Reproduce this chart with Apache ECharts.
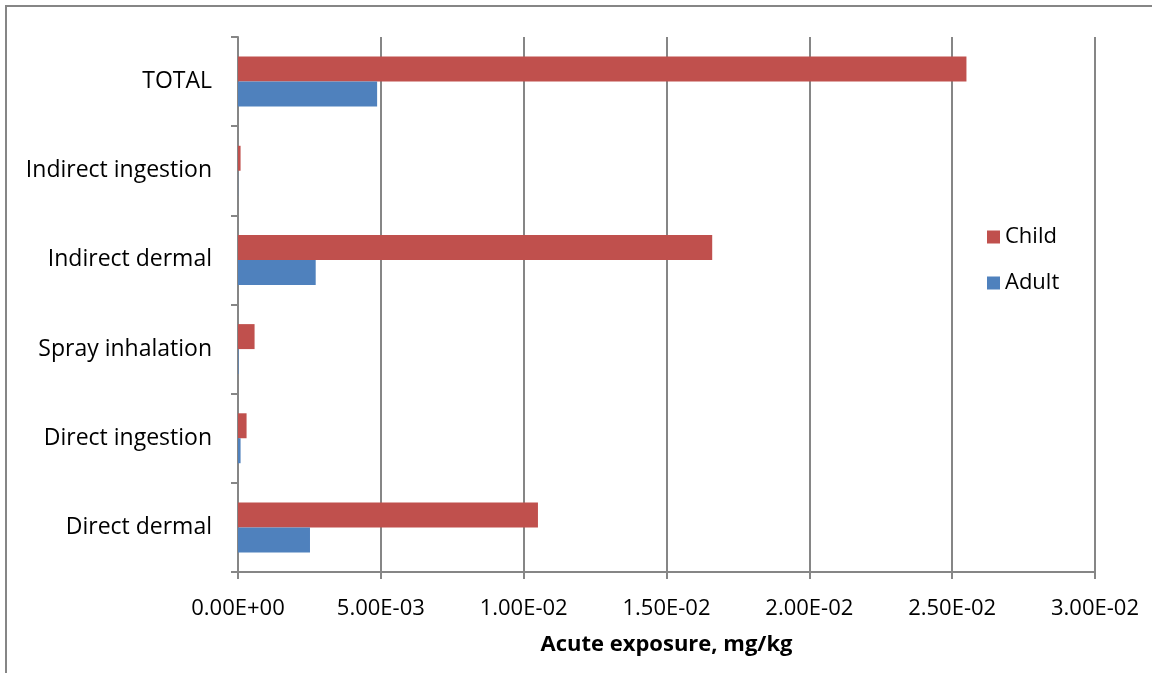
<!DOCTYPE html>
<html>
<head>
<meta charset="utf-8">
<script src="https://cdn.jsdelivr.net/npm/echarts@6/dist/echarts.min.js"></script>
<style>
  html, body { margin: 0; padding: 0; background: #fff; }
  #chart { width: 1152px; height: 673px; }
</style>
</head>
<body>
<div id="chart"></div>
<script>
// Exposure routes, listed bottom to top on the category axis
const categories = ['Direct dermal', 'Direct ingestion', 'Spray inhalation', 'Indirect dermal', 'Indirect ingestion', 'TOTAL'];
const childValues = [0.0105, 0.0003, 0.00058, 0.0166, 0.00009, 0.0255];
const adultValues = [0.00252, 0.00009, 0.00002, 0.00272, 0.000005, 0.00487];
const seriesNames = ['Child', 'Adult'];
const axisTitle = 'Acute exposure, mg/kg';

const FONT = '"Open Sans", "Noto Sans", sans-serif';
const GRAY = '#868686';

// Scientific notation in the form 0.00E+00
function sci(v) {
  if (v === 0) return '0.00E+00';
  const parts = v.toExponential(2).split('e');
  const exp = parseInt(parts[1], 10);
  const sign = exp < 0 ? '-' : '+';
  const mag = String(Math.abs(exp)).padStart(2, '0');
  return parts[0] + 'E' + sign + mag;
}

const chart = echarts.init(document.getElementById('chart'), null, { renderer: 'canvas' });
chart.setOption({
  backgroundColor: '#fff',
  animation: false,
  graphic: [{
    type: 'rect',
    shape: { x: 6, y: 6, width: 1300, height: 800 },
    style: { fill: 'none', stroke: GRAY, lineWidth: 2 },
    silent: true
  }],
  grid: { left: 238, right: 57, top: 37, bottom: 101, containLabel: false },
  legend: {
    data: seriesNames,
    orient: 'vertical',
    left: 982,
    top: 221,
    itemWidth: 13,
    itemHeight: 13,
    itemGap: 24,
    icon: 'rect',
    textStyle: { fontFamily: FONT, fontSize: 22, color: '#000' }
  },
  xAxis: {
    type: 'value',
    min: 0,
    max: 0.03,
    interval: 0.005,
    name: axisTitle,
    nameLocation: 'middle',
    nameGap: 62,
    nameTextStyle: { fontFamily: FONT, fontSize: 22, fontWeight: 'bold', color: '#000' },
    axisLine: { show: true, lineStyle: { color: GRAY, width: 2 } },
    axisTick: { show: true, length: 7, lineStyle: { color: GRAY, width: 2 } },
    axisLabel: { formatter: sci, margin: 26, fontFamily: FONT, fontSize: 22, color: '#000' },
    splitLine: { show: true, lineStyle: { color: GRAY, width: 2 } }
  },
  yAxis: {
    type: 'category',
    data: categories,
    axisLine: { show: true, lineStyle: { color: GRAY, width: 2 } },
    axisTick: { show: true, length: 7, lineStyle: { color: GRAY, width: 2 } },
    axisLabel: { margin: 26, padding: [4, 0, 0, 0], fontFamily: FONT, fontSize: 23, color: '#000' },
    splitLine: { show: false }
  },
  series: [
    {
      name: seriesNames[0],
      type: 'bar',
      data: childValues,
      itemStyle: { color: '#C0504D' },
      barGap: '0%',
      barCategoryGap: '44%'
    },
    {
      name: seriesNames[1],
      type: 'bar',
      data: adultValues,
      itemStyle: { color: '#4F81BD' },
      barGap: '0%',
      barCategoryGap: '44%'
    }
  ]
});
</script>
</body>
</html>
